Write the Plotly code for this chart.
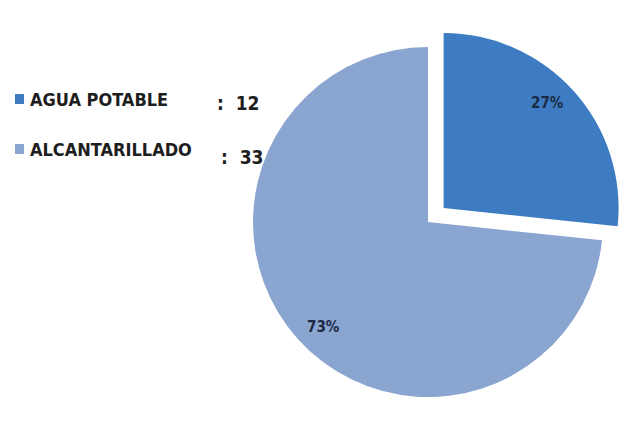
import math
import plotly.graph_objects as go

labels = ["AGUA POTABLE", "ALCANTARILLADO"]
values = [12, 33]
colors = ["#3d7bc2", "#8aa5d0"]
pulls = [0.12, 0]

W, H = 624, 421
dom_x = [1 - 392 / W, 1.0]
dom_y = [0.007, 0.938]

fig = go.Figure()
fig.add_trace(go.Pie(
    labels=labels,
    values=values,
    sort=False,
    direction="clockwise",
    rotation=0,
    pull=pulls,
    marker=dict(colors=colors, line=dict(width=0)),
    textinfo="none",
    showlegend=False,
    domain=dict(x=dom_x, y=dom_y),
    hoverinfo="label+value+percent",
))

# percentage labels placed along each slice's mid-angle, derived from the values
cx = W * (dom_x[0] + dom_x[1]) / 2
cy = H * (1 - (dom_y[0] + dom_y[1]) / 2)
r = min(W * (dom_x[1] - dom_x[0]), H * (dom_y[1] - dom_y[0])) / (2 * (1 + max(pulls)))
total = sum(values)
start = 0.0
for val, p in zip(values, pulls):
    frac = val / total
    mid = (start + frac / 2) * 2 * math.pi
    start += frac
    ox = cx + r * p * math.sin(mid)
    oy = cy - r * p * math.cos(mid)
    px = ox + r * 0.8 * math.sin(mid)
    py = oy - r * 0.9 * math.cos(mid)
    fig.add_annotation(x=px / W, y=1 - py / H, xref="paper", yref="paper",
                       xanchor="center", yanchor="middle",
                       text=f"{round(frac * 100)}%", showarrow=False,
                       font=dict(family="DejaVu Sans Condensed", size=15, color="#1c2b45", weight="bold"))

row_y = [99, 149]
val_y = [103, 157]
val_x = [215, 219]
for i, (lab, val, col) in enumerate(zip(labels, values, colors)):
    fig.add_shape(type="rect", xref="paper", yref="paper",
                  x0=15 / W, x1=24 / W,
                  y0=1 - (row_y[i] + 5) / H, y1=1 - (row_y[i] - 5) / H,
                  fillcolor=col, line=dict(width=0))
    fig.add_annotation(x=28 / W, y=1 - row_y[i] / H, xref="paper", yref="paper",
                       text=lab, showarrow=False, xanchor="left", yanchor="middle",
                       font=dict(family="DejaVu Sans Condensed", size=18, color="#1e1e1e", weight="bold"))
    fig.add_annotation(x=val_x[i] / W, y=1 - val_y[i] / H, xref="paper", yref="paper",
                       text=f":  {val}", showarrow=False, xanchor="left", yanchor="middle",
                       font=dict(family="DejaVu Sans Condensed", size=19, color="#1e1e1e", weight="bold"))

fig.update_layout(
    width=W, height=H,
    margin=dict(l=0, r=0, t=0, b=0),
    paper_bgcolor="white",
    plot_bgcolor="white",
)
fig.write_html("out.html")
